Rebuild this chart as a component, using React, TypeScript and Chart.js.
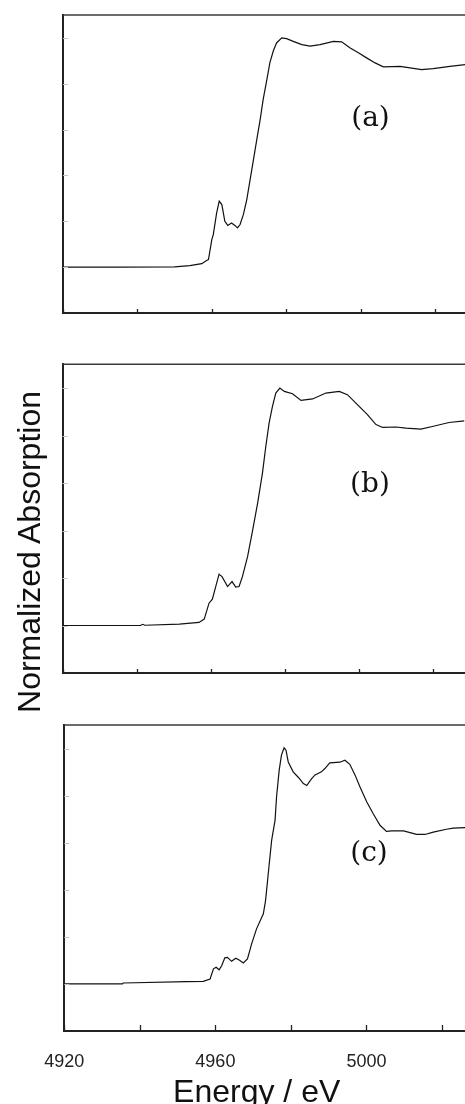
import React, { useEffect, useRef } from "react";
import { Chart, registerables } from "chart.js";

Chart.register(...registerables);

// ---- Data ----
const energyA = [4920, 4935, 4950, 4954.1, 4957.3, 4958.6, 4959.1, 4960.0, 4960.4, 4961.3,
  4962.0, 4962.7, 4963.5, 4964.3, 4965.3, 4966.2, 4966.9, 4967.6, 4968.5, 4969.4,
  4970.3, 4971.2, 4972.1, 4973.0, 4973.8, 4974.8, 4975.6, 4976.5, 4977.4, 4978.8,
  4980.1, 4981.9, 4984.2, 4986.4, 4989.1, 4992.7, 4994.9, 4997.2, 4999.4, 5001.6,
  5003.9, 5006.1, 5010.6, 5013.3, 5016.4, 5019.5, 5024.0, 5028.1];
const absorptionA = [0, 0, 0.001, 0.007, 0.015, 0.029, 0.033, 0.12, 0.142, 0.237,
  0.288, 0.273, 0.2, 0.182, 0.193, 0.182, 0.171, 0.186, 0.23, 0.295,
  0.382, 0.469, 0.557, 0.644, 0.731, 0.818, 0.891, 0.942, 0.978, 1.0,
  0.997, 0.985, 0.971, 0.964, 0.971, 0.985, 0.983, 0.956, 0.935, 0.913,
  0.891, 0.874, 0.876, 0.869, 0.862, 0.866, 0.876, 0.884];

const energyB = [4920, 4941, 4941.6, 4942.2, 4951.5, 4956.8, 4958.2, 4959.5, 4960.4, 4961.3,
  4962.2, 4963.0, 4964.5, 4965.7, 4966.7, 4967.6, 4968.5, 4969.9, 4971.2, 4972.6,
  4973.9, 4974.8, 4975.7, 4976.6, 4977.5, 4978.6, 4979.8, 4982.0, 4984.3, 4987.4,
  4991.0, 4994.6, 4996.8, 4999.5, 5002.2, 5004.5, 5006.3, 5009.9, 5012.6, 5016.6,
  5019.7, 5024.2, 5028.3];
const absorptionB = [0, 0, 0.005, 0.001, 0.006, 0.013, 0.027, 0.094, 0.111, 0.164,
  0.216, 0.206, 0.164, 0.185, 0.162, 0.164, 0.206, 0.291, 0.396, 0.515,
  0.642, 0.754, 0.853, 0.923, 0.979, 1.0, 0.986, 0.976, 0.948, 0.954,
  0.979, 0.986, 0.972, 0.93, 0.888, 0.846, 0.834, 0.836, 0.831, 0.827,
  0.838, 0.855, 0.862];

const energyC = [4920, 4935.4, 4935.6, 4952.4, 4956.8, 4958.6, 4959.5, 4960.2, 4961.0, 4961.7,
  4962.5, 4963.2, 4964.3, 4965.4, 4966.3, 4967.4, 4968.5, 4969.6, 4970.9, 4972.7,
  4973.3, 4974.0, 4974.9, 4975.8, 4976.2, 4976.9, 4977.5, 4978.2, 4978.7, 4979.3,
  4980.6, 4982.0, 4983.3, 4984.2, 4985.5, 4986.4, 4988.1, 4989.0, 4990.3, 4993.0,
  4994.3, 4995.6, 4997.0, 4998.3, 5000.1, 5001.8, 5003.6, 5005.3, 5006.7, 5009.8,
  5013.3, 5015.5, 5017.7, 5021.2, 5023.0, 5026.1];
const absorptionC = [0, 0, 0.004, 0.01, 0.011, 0.021, 0.064, 0.071, 0.06, 0.078,
  0.111, 0.113, 0.096, 0.109, 0.102, 0.089, 0.106, 0.17, 0.234, 0.298,
  0.355, 0.468, 0.61, 0.695, 0.794, 0.908, 0.972, 1.003, 0.993, 0.943,
  0.901, 0.877, 0.851, 0.843, 0.872, 0.888, 0.901, 0.915, 0.939, 0.942,
  0.95, 0.933, 0.887, 0.837, 0.773, 0.723, 0.674, 0.648, 0.65, 0.65,
  0.635, 0.635, 0.645, 0.657, 0.662, 0.664];

const labeledEnergyTicks = [4920, 4960, 5000];
const panelLabels = ["(a)", "(b)", "(c)"];
const yAxisTitle = "Normalized Absorption";
const xAxisTitle = "Energy / eV";

const X_MIN = 4920;
const Y_MIN = -0.2;
const Y_MAX = 1.1;

const SANS = '"Liberation Sans", Arial, Helvetica, sans-serif';
const SERIF = '"DejaVu Serif", "Liberation Serif", serif';

type PanelSpec = {
  energy: number[];
  values: number[];
  canvasTop: number;
  canvasHeight: number;
  pad: { left: number; top: number; right: number; bottom: number };
  xMax: number;
  showLabels: boolean;
  xAxisHeight: number;
  tickLen: number;
};

const panels: PanelSpec[] = [
  {
    energy: energyA, values: absorptionA,
    canvasTop: 0, canvasHeight: 340,
    pad: { left: 63, top: 15, right: 0, bottom: 27 },
    xMax: 5028.06, showLabels: false, xAxisHeight: 0, tickLen: 4,
  },
  {
    energy: energyB, values: absorptionB,
    canvasTop: 340, canvasHeight: 340,
    pad: { left: 62.5, top: 24.3, right: 0, bottom: 7 },
    xMax: 5028.5, showLabels: false, xAxisHeight: 0, tickLen: 4,
  },
  {
    energy: energyC, values: absorptionC,
    canvasTop: 680, canvasHeight: 424,
    pad: { left: 64.3, top: 45, right: 0, bottom: 0 },
    xMax: 5026.1, showLabels: true, xAxisHeight: 73, tickLen: 6,
  },
];

function makeFramePlugin(tickLen: number) {
  return {
    id: "frame",
    afterDatasetsDraw(chart: any) {
      const { ctx, chartArea, scales } = chart;
      const { left, right, top, bottom } = chartArea;
      const xs = scales.x;
      const ys = scales.y;
      ctx.save();
      // top frame line
      ctx.strokeStyle = "#3a3a3a";
      ctx.lineWidth = 1.5;
      ctx.beginPath();
      ctx.moveTo(left, top);
      ctx.lineTo(right, top);
      ctx.stroke();
      // inward x ticks
      ctx.strokeStyle = "#222";
      ctx.lineWidth = 1.3;
      xs.ticks.forEach((t: any) => {
        const px = Math.round(xs.getPixelForValue(t.value)) + 0.5;
        ctx.beginPath();
        ctx.moveTo(px, bottom);
        ctx.lineTo(px, bottom - tickLen);
        ctx.stroke();
      });
      // inward y ticks (light)
      ctx.strokeStyle = "#c4c4c4";
      ctx.lineWidth = 1;
      ys.ticks.forEach((t: any) => {
        if (t.value <= Y_MIN + 1e-6) return;
        const py = Math.round(ys.getPixelForValue(t.value)) + 0.5;
        ctx.beginPath();
        ctx.moveTo(left, py);
        ctx.lineTo(left + 5, py);
        ctx.stroke();
      });
      ctx.restore();
    },
  };
}

function Panel({ spec }: { spec: PanelSpec }) {
  const ref = useRef<HTMLCanvasElement>(null);
  useEffect(() => {
    if (!ref.current) return;
    const chart = new Chart(ref.current, {
      type: "line",
      data: {
        datasets: [
          {
            data: spec.energy.map((e, i) => ({ x: e, y: spec.values[i] })),
            borderColor: "#111",
            borderWidth: 1.2,
            pointRadius: 0,
            tension: 0,
            fill: false,
          },
        ],
      },
      options: {
        animation: false,
        responsive: false,
        maintainAspectRatio: false,
        events: [],
        layout: { padding: spec.pad },
        plugins: { legend: { display: false }, tooltip: { enabled: false } },
        scales: {
          x: {
            type: "linear",
            min: X_MIN,
            max: spec.xMax,
            grid: { display: false, drawTicks: false },
            border: { display: true, color: "#222", width: 2 },
            ticks: {
              display: spec.showLabels,
              stepSize: 20,
              includeBounds: false,
              autoSkip: false,
              maxRotation: 0,
              padding: 20,
              color: "#222",
              font: { family: SANS, size: 18 },
              callback: (v: any) =>
                labeledEnergyTicks.includes(Math.round(Number(v))) ? String(Math.round(Number(v))) : "",
            },
            afterFit: (s: any) => {
              s.height = spec.xAxisHeight;
            },
          },
          y: {
            type: "linear",
            min: Y_MIN,
            max: Y_MAX,
            grid: { display: false, drawTicks: false },
            border: { display: true, color: "#222", width: 2 },
            ticks: { display: false, stepSize: 0.2, includeBounds: false },
            afterFit: (s: any) => {
              s.width = 0;
            },
          },
        },
      } as any,
      plugins: [makeFramePlugin(spec.tickLen)],
    });
    return () => chart.destroy();
  }, [spec]);
  return (
    <canvas
      ref={ref}
      width={465}
      height={spec.canvasHeight}
      style={{ position: "absolute", left: 0, top: spec.canvasTop, width: 465, height: spec.canvasHeight }}
    />
  );
}

const labelCenters = [
  { x: 370.5, y: 117 },
  { x: 370, y: 482.5 },
  { x: 369, y: 851.5 },
];

export default function App() {
  return (
    <div
      style={{
        position: "absolute",
        left: 0,
        top: 0,
        width: 465,
        height: 1104,
        overflow: "hidden",
        background: "#fff",
      }}
    >
      {panels.map((p, i) => (
        <Panel key={i} spec={p} />
      ))}
      {panelLabels.map((t, i) => (
        <div
          key={t}
          style={{
            position: "absolute",
            left: labelCenters[i].x - 50,
            top: labelCenters[i].y - 20,
            width: 100,
            height: 40,
            lineHeight: "40px",
            textAlign: "center",
            fontFamily: SERIF,
            fontSize: 28,
            color: "#111",
          }}
        >
          {t}
        </div>
      ))}
      <div
        style={{
          position: "absolute",
          left: 28.9 - 200,
          top: 551.5 - 16,
          width: 400,
          height: 32,
          lineHeight: "32px",
          textAlign: "center",
          fontFamily: SANS,
          fontSize: 32,
          color: "#111",
          transform: "rotate(-90deg)",
          transformOrigin: "50% 50%",
          whiteSpace: "nowrap",
        }}
      >
        {yAxisTitle}
      </div>
      <div
        style={{
          position: "absolute",
          left: 256.7 - 150,
          top: 1075,
          width: 300,
          height: 32,
          lineHeight: "32px",
          textAlign: "center",
          fontFamily: SANS,
          fontSize: 32,
          color: "#111",
          whiteSpace: "nowrap",
        }}
      >
        {xAxisTitle}
      </div>
    </div>
  );
}
